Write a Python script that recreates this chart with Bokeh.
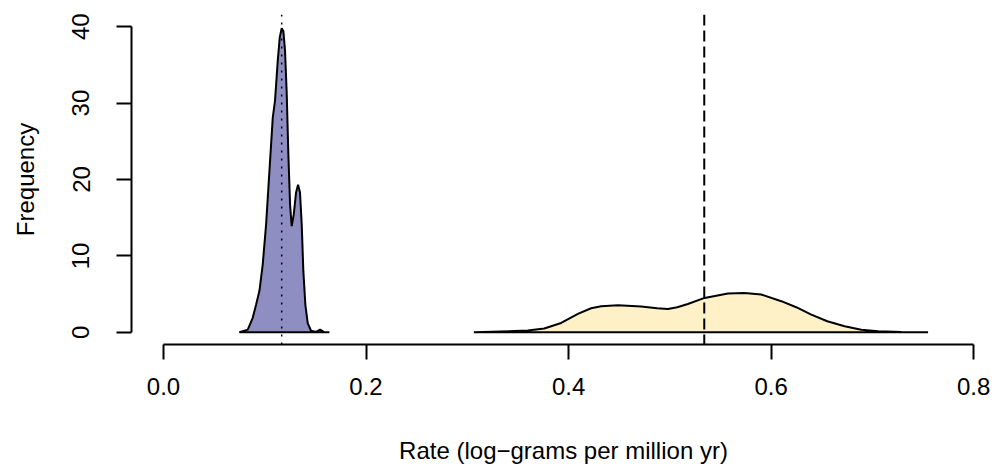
from bokeh.plotting import figure
from bokeh.models import Range1d, FixedTicker, Span
from bokeh.embed import file_html
from bokeh.resources import INLINE

# Density of rates, group A (blue)
rate_a = [0.0749, 0.0832, 0.0881, 0.0914, 0.0947, 0.0980, 0.1013, 0.1046, 0.1079,
          0.1101, 0.1128, 0.1148, 0.1167, 0.1184, 0.1200, 0.1217, 0.1233, 0.1250,
          0.1266, 0.1286, 0.1309, 0.1329, 0.1348, 0.1365, 0.1381, 0.1401, 0.1424,
          0.1457, 0.1507, 0.1546, 0.1583, 0.1638]
freq_a = [0.0, 0.35, 1.9, 3.6, 5.4, 8.9, 14.1, 21.1, 28.1,
          30.3, 35.5, 38.6, 39.8, 39.4, 36.9, 31.2, 23.3, 16.7,
          13.9, 15.4, 18.3, 19.3, 18.3, 14.1, 8.0, 3.6, 1.2,
          0.2, 0.05, 0.35, 0.05, 0.0]

# Density of rates, group B (yellow)
rate_b = [0.3065, 0.3598, 0.3760, 0.3927, 0.4092, 0.4223, 0.4322, 0.4487, 0.4717,
          0.4875, 0.4981, 0.5073, 0.5178, 0.5343, 0.5574, 0.5738, 0.5903, 0.6101,
          0.6248, 0.6397, 0.6555, 0.6726, 0.6891, 0.7056, 0.7286, 0.7550]
freq_b = [0.0, 0.22, 0.5, 1.22, 2.4, 3.15, 3.4, 3.54, 3.37,
          3.15, 3.06, 3.28, 3.71, 4.5, 5.08, 5.15, 4.94, 4.07,
          3.28, 2.32, 1.44, 0.79, 0.33, 0.13, 0.04, 0.0]

mean_a = 0.1167
mean_b = 0.534

x_ticks = [0.0, 0.2, 0.4, 0.6, 0.8]
x_tick_labels = ["0.0", "0.2", "0.4", "0.6", "0.8"]
y_ticks = [0, 10, 20, 30, 40]

FONT = "Liberation Sans"

p = figure(width=1000, height=468, output_backend="svg", toolbar_location=None,
           x_range=Range1d(-0.0316, 0.8216), y_range=Range1d(-1.6, 41.6),
           min_border_left=131, min_border_right=5, min_border_top=14,
           min_border_bottom=124)
p.outline_line_color = None
p.xgrid.grid_line_color = None
p.ygrid.grid_line_color = None
p.background_fill_color = "white"
p.border_fill_color = "white"

p.patch(rate_a, freq_a, fill_color="#8E8EC2", line_color="black", line_width=2)
p.patch(rate_b, freq_b, fill_color="#FEF1C8", line_color="black", line_width=2)

p.add_layout(Span(location=mean_a, dimension="height", line_color="black",
                  line_width=1.5, line_dash="2 6"))
p.add_layout(Span(location=mean_b, dimension="height", line_color="black",
                  line_width=2, line_dash="11 5"))

for ax in (p.xaxis[0], p.yaxis[0]):
    ax.axis_line_width = 2
    ax.axis_line_color = "black"
    ax.major_tick_line_width = 2
    ax.major_tick_line_color = "black"
    ax.major_tick_out = 15
    ax.major_tick_in = 0
    ax.minor_tick_line_color = None
    ax.major_label_text_font = FONT
    ax.major_label_text_font_size = "24px"
    ax.major_label_text_color = "black"
    ax.axis_label_text_font = FONT
    ax.axis_label_text_font_size = "24px"
    ax.axis_label_text_font_style = "normal"
    ax.axis_label_text_color = "black"

xa = p.xaxis[0]
xa.ticker = FixedTicker(ticks=x_ticks)
xa.major_label_overrides = {t: s for t, s in zip(x_ticks, x_tick_labels)}
xa.bounds = (x_ticks[0], x_ticks[-1])
xa.major_label_standoff = 18
xa.axis_label = "Rate (log\u2212grams per million yr)"
xa.axis_label_standoff = 39

ya = p.yaxis[0]
ya.ticker = FixedTicker(ticks=y_ticks)
ya.bounds = (y_ticks[0], y_ticks[-1])
ya.major_label_orientation = "vertical"
ya.major_label_standoff = 27
ya.axis_label = "Frequency"
ya.axis_label_standoff = 31

open("out.html", "w").write(file_html(p, INLINE))
